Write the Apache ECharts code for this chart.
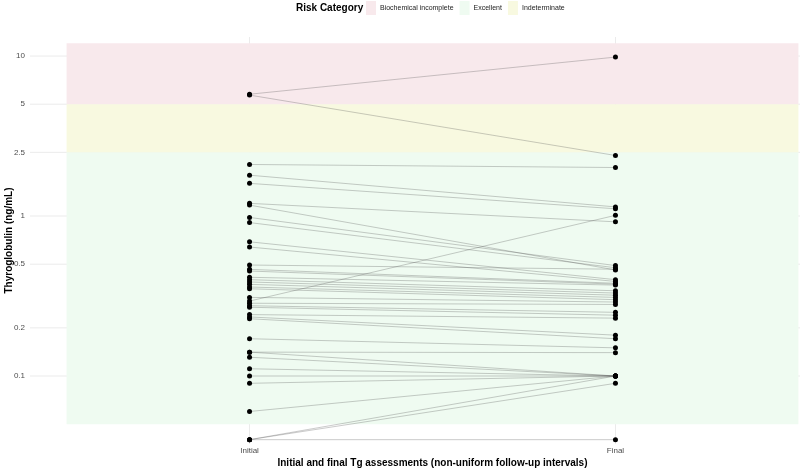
<!DOCTYPE html>
<html><head><meta charset="utf-8">
<script src="https://cdn.jsdelivr.net/npm/echarts@6/dist/echarts.min.js"></script>
<style>html,body{margin:0;padding:0;background:#fff}#c{width:800px;height:470px}</style>
</head><body><div id="c"></div>
<script>
const categories = ['Initial', 'Final'];
const initialTg = [5.77, 5.70, 2.10, 1.80, 1.60, 1.20, 1.17, 0.98, 0.91, 0.494, 0.69, 0.64, 0.464, 0.453, 0.414, 0.40, 0.387, 0.374, 0.36, 0.351, 0.31, 0.285, 0.275, 0.269, 0.242, 0.234, 0.228, 0.171, 0.141, 0.141, 0.131, 0.111, 0.100, 0.090, 0.060, 0.040, 0.040, 0.040, 0.294];
const finalTg = [9.85, 2.39, 2.01, 1.14, 1.11, 0.92, 0.46, 0.49, 0.475, 0.465, 0.40, 0.39, 0.38, 0.375, 0.37, 0.341, 0.33, 0.32, 0.31, 0.30, 0.29, 0.28, 0.25, 0.24, 0.23, 0.18, 0.171, 0.15, 0.14, 0.10, 0.10, 0.10, 0.10, 0.10, 0.10, 0.10, 0.09, 0.04, 1.01];
const yTickValues = [0.1, 0.2, 0.5, 1, 2.5, 5, 10];
const yTickLabels = ['0.1', '0.2', '0.5', '1', '2.5', '5', '10'];
const riskNames = ['Biochemical incomplete', 'Excellent', 'Indeterminate'];
const riskLower = [5, 0.05, 2.5];
const riskUpper = [12, 2.5, 5];
const riskColors = ['#f8e9ec', '#effbf1', '#f8f9e0'];
const bandX = [0.5, 2.5];

const L = v => Math.log10(v);
const FONT = 'Liberation Sans, Arial, sans-serif';
const chart = echarts.init(document.getElementById('c'), null, {renderer: 'canvas'});

const bandSeries = riskNames.map((name, i) => ({
  name: name,
  type: 'custom',
  z: 1,
  silent: true,
  itemStyle: {color: riskColors[i]},
  data: [[bandX[0], bandX[1], L(riskLower[i]), L(riskUpper[i])]],
  renderItem: (params, api) => {
    const p0 = api.coord([api.value(0), api.value(3)]);
    const p1 = api.coord([api.value(1), api.value(2)]);
    return {type: 'rect', shape: {x: p0[0], y: p0[1], width: p1[0] - p0[0], height: p1[1] - p0[1]},
      style: {fill: riskColors[i]}};
  }
}));

const gridSeries = {
  type: 'custom', z: 0, silent: true,
  data: yTickValues.map(v => [0, L(v)]).concat([[1, 0], [2, 0]]),
  renderItem: (params, api) => {
    const cs = params.coordSys;
    const isV = api.value(0) > 0;
    let shape;
    if (isV) {
      const p = api.coord([api.value(0), 0]);
      shape = {x1: p[0], y1: cs.y, x2: p[0], y2: cs.y + cs.height};
    } else {
      const p = api.coord([1, api.value(1)]);
      shape = {x1: cs.x, y1: p[1], x2: cs.x + cs.width, y2: p[1]};
    }
    return {type: 'line', shape: shape, style: {stroke: '#ebebeb', lineWidth: 1}};
  }
};

const linkSeries = {
  type: 'custom', z: 3, silent: true,
  data: initialTg.map((v, i) => [1, L(v), 2, L(finalTg[i])]),
  renderItem: (params, api) => {
    const a = api.coord([api.value(0), api.value(1)]);
    const b = api.coord([api.value(2), api.value(3)]);
    return {type: 'line', shape: {x1: a[0], y1: a[1], x2: b[0], y2: b[1]},
      style: {stroke: 'rgba(80,80,80,0.5)', lineWidth: 0.6}};
  }
};

const pointSeries = {
  type: 'scatter', z: 4, silent: true,
  symbolSize: 5,
  itemStyle: {color: '#000', opacity: 1},
  data: initialTg.map(v => [1, L(v)]).concat(finalTg.map(v => [2, L(v)]))
};

chart.setOption({
  animation: false,
  textStyle: {fontFamily: FONT},
  title: {text: 'Risk Category', left: 291, top: -2,
    textStyle: {fontSize: 10, fontWeight: 'bold', color: '#000', fontFamily: FONT}},
  legend: {
    left: 361, top: -4, orient: 'horizontal',
    data: riskNames.map((n, i) => ({name: n, icon: 'rect', itemStyle: {color: riskColors[i]}})),
    itemWidth: 10, itemHeight: 14, itemGap: 6,
    textStyle: {fontSize: 7, color: '#222', padding: [0, 0, 0, -1], fontFamily: FONT},
    selectedMode: false
  },
  grid: {left: 30, right: -35, top: 37, bottom: 26, containLabel: false, outerBoundsMode: 'none'},
  xAxis: {
    type: 'value', min: 0.4, max: 2.6,
    name: 'Initial and final Tg assessments (non-uniform follow-up intervals)',
    nameLocation: 'middle', nameGap: 14, nameMoveOverlap: false,
    nameTextStyle: {fontSize: 10, fontWeight: 'bold', color: '#000', fontFamily: FONT},
    axisLine: {show: false}, axisTick: {show: false}, splitLine: {show: false},
    axisLabel: {customValues: [1, 2], formatter: v => categories[Math.round(v) - 1],
      fontSize: 8, color: '#4d4d4d', margin: 3, fontFamily: FONT}
  },
  yAxis: {
    type: 'value', min: -1.425, max: 1.119,
    name: 'Thyroglobulin (ng/mL)', nameLocation: 'middle', nameGap: 16, nameRotate: 90, nameMoveOverlap: false,
    nameTextStyle: {fontSize: 10, fontWeight: 'bold', color: '#000', fontFamily: FONT},
    axisLine: {show: false}, axisTick: {show: false}, splitLine: {show: false},
    axisLabel: {customValues: yTickValues.map(L),
      formatter: v => {
        let best = 0;
        yTickValues.forEach((t, i) => { if (Math.abs(L(t) - v) < Math.abs(L(yTickValues[best]) - v)) best = i; });
        return yTickLabels[best];
      },
      fontSize: 8, color: '#4d4d4d', margin: 5, fontFamily: FONT}
  },
  series: [gridSeries].concat(bandSeries, [linkSeries, pointSeries])
});
</script></body></html>
